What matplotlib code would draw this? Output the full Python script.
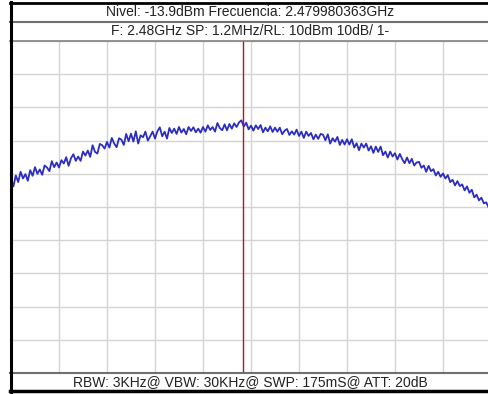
import matplotlib
matplotlib.use('Agg')
import matplotlib.pyplot as plt
from matplotlib.lines import Line2D
import numpy as np

# analyzer settings (from the header text)
center_ghz = 2.48
span_mhz = 1.2
ref_level = 10      # dBm, top of screen
db_per_div = 10
marker_ghz = 2.479980363

header1 = 'Nivel: -13.9dBm Frecuencia: 2.479980363GHz'
header2 = 'F: 2.48GHz SP: 1.2MHz/RL: 10dBm 10dB/ 1-'
footer = 'RBW: 3KHz@ VBW: 30KHz@ SWP: 175mS@ ATT: 20dB'

# trace levels in dBm, read left to right across the screen
levels = [
    -31.7, -33.8, -30.5, -32.5, -29.4, -31.4, -30.1, -32.1, -28.9, -30.6,
    -28.0, -30.0, -28.7, -30.3, -27.5, -28.1, -29.2, -26.2, -28.0, -26.6,
    -28.1, -25.9, -26.9, -25.0, -27.6, -25.3, -24.1, -26.1, -24.8, -26.1,
    -23.3, -24.5, -23.0, -24.9, -21.4, -23.4, -23.9, -21.0, -21.4, -22.4,
    -20.4, -22.1, -19.2, -20.9, -22.0, -19.3, -19.7, -21.3, -18.0, -20.2,
    -17.9, -20.3, -17.2, -20.9, -18.4, -19.0, -17.3, -20.0, -18.7, -17.3,
    -19.4, -17.2, -16.0, -18.7, -17.3, -19.4, -16.2, -17.7, -16.4, -18.0,
    -15.9, -17.6, -16.5, -18.1, -15.9, -17.1, -16.0, -17.5, -16.4, -17.6,
    -15.9, -17.3, -15.4, -16.8, -15.9, -17.3, -14.7, -16.2, -16.9, -15.1,
    -16.9, -15.0, -16.4, -14.8, -15.9, -14.5, -13.9, -15.8, -14.6, -16.6,
    -15.5, -17.0, -15.4, -16.5, -15.3, -17.5, -16.1, -17.2, -15.7, -17.4,
    -16.1, -17.3, -16.1, -18.1, -17.0, -16.5, -18.3, -17.2, -18.2, -16.7,
    -18.6, -17.3, -19.2, -17.3, -18.6, -17.7, -19.6, -18.2, -19.5, -18.0,
    -18.2, -19.9, -18.1, -20.9, -19.3, -20.3, -18.9, -21.3, -19.8, -21.2,
    -19.6, -21.2, -19.6, -22.1, -20.8, -22.9, -20.9, -22.1, -20.9, -23.0,
    -21.7, -23.7, -21.8, -23.4, -21.8, -24.4, -23.3, -25.1, -23.3, -24.8,
    -23.8, -25.7, -24.0, -25.6, -26.8, -25.1, -26.8, -25.5, -27.5, -26.6,
    -26.4, -28.2, -27.5, -29.4, -27.6, -29.2, -28.6, -30.5, -29.4, -30.9,
    -29.9, -31.4, -30.4, -32.5, -31.8, -33.5, -32.2, -33.7, -33.2, -35.0,
    -33.8, -35.7, -34.8, -37.1, -36.3, -38.0, -37.2, -38.9, -38.6, -40.1,
    -40.5,
]

W, H = 489, 394
plt.rcParams['font.family'] = ['Liberation Sans', 'DejaVu Sans']
fig = plt.figure(figsize=(W / 100, H / 100), dpi=100)

# screen: left edge at x=11, grid from y=41 to y=373 (pixels from top)
ax = fig.add_axes([11 / W, (H - 373) / H, 480 / W, 332 / H])
span_ghz = span_mhz / 1000
f0 = center_ghz - span_ghz / 2
f1 = center_ghz + span_ghz / 2
freqs = np.linspace(f0, f1, len(levels))
bottom = ref_level - 10 * db_per_div

ax.set_xlim(f0, f1)
ax.set_ylim(bottom, ref_level)
ax.set_xticks([])
ax.set_yticks([])
for s in ax.spines.values():
    s.set_visible(False)

# 10 x 10 graticule
for f in np.linspace(f0, f1, 11):
    ax.axvline(f, color='#d4d4d4', linewidth=1.0, zorder=1)
for lv in np.arange(bottom, ref_level + 1, db_per_div):
    ax.axhline(lv, color='#d4d4d4', linewidth=1.0, zorder=1)

ax.plot(freqs, levels, color='#2c2cc0', linewidth=1.3, zorder=3)
ax.axvline(marker_ghz, color='#b01818', linewidth=1.0, zorder=4)

# frame lines (figure pixels, y from top)
def hline(y, x0, x1, color, lw):
    fig.add_artist(Line2D([x0 / W, x1 / W], [1 - y / H, 1 - y / H],
                          color=color, linewidth=lw))

def vline(x, y0, y1, color, lw):
    fig.add_artist(Line2D([x / W, x / W], [1 - y0 / H, 1 - y1 / H],
                          color=color, linewidth=lw))

hline(2.5, 10, W, 'black', 2.0)
hline(21.5, 10, W, '#707070', 1.5)
hline(40.5, 10, W, '#808080', 1.2)
hline(373, 10, W, '#707070', 1.5)
hline(391, 10, W, 'black', 2.5)
vline(10.5, 2, 392, 'black', 2.2)

fig.text(250 / W, 1 - 12 / H, header1, ha='center', va='center',
         fontsize=10, color='#222222')
fig.text(250 / W, 1 - 31 / H, header2, ha='center', va='center',
         fontsize=10, color='#222222')
fig.text(250 / W, 1 - 382 / H, footer, ha='center', va='center',
         fontsize=10, color='#222222')

fig.savefig('out.png', dpi=100)
